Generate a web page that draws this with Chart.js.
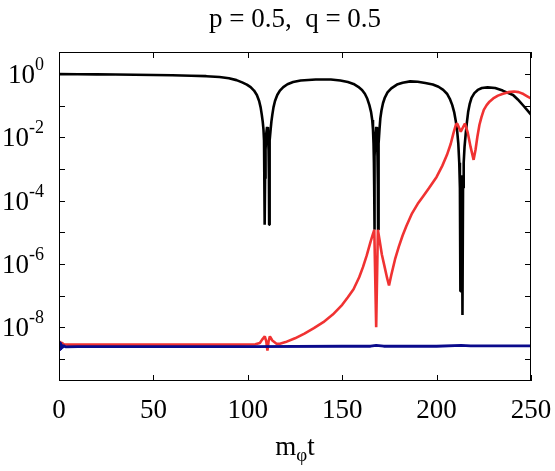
<!DOCTYPE html>
<html><head><meta charset="utf-8">
<script src="https://cdn.jsdelivr.net/npm/chart.js@4.4.0/dist/chart.umd.min.js"></script>
<style>html,body{margin:0;padding:0;background:#fff;}#wrap{width:555px;height:471px;}</style>
</head><body><div id="wrap"><canvas id="c" width="555" height="471"></canvas></div>
<script>
const titleText = "p = 0.5,  q = 0.5";
const xTicks = [0, 50, 100, 150, 200, 250];
const yMajorExp = [0, -2, -4, -6, -8];
const yMinorExp = [-1, -3, -5, -7, -9];

// black curve: time and log10(value)
const blackT = [0, 10, 20, 30, 40, 50, 60, 70, 78, 85, 90, 94, 97, 99.5, 101.5, 103.3, 104.8, 106, 106.8, 107.4, 107.9, 108.3, 108.6, 108.8, 108.95, 109.05, 109.15, 109.4, 109.75, 110.2, 110.65, 111.0, 111.2, 111.3, 111.4, 111.55, 111.75, 112.1, 112.5, 113.0, 113.6, 114.4, 115.6, 117, 118.8, 121, 124, 128, 136, 144, 149, 153, 156, 158.5, 160.5, 162, 163.3, 164.4, 165.3, 165.9, 166.3, 166.6, 166.8, 166.93, 167.0, 167.1, 167.3, 167.6, 168.0, 168.4, 168.7, 168.9, 169.0, 169.1, 169.25, 169.45, 169.75, 170.2, 170.8, 171.6, 172.6, 174, 176, 179, 182, 186, 190, 194, 198, 201, 203.5, 205.5, 207, 208.3, 209.3, 210.2, 210.9, 211.5, 212, 212.35, 212.6, 212.85, 213.15, 213.45, 213.7, 214.0, 214.35, 214.8, 215.4, 216.0, 216.7, 217.5, 218.5, 220, 221.8, 224, 227, 231, 235, 238, 240.5, 243, 246, 250];
const blackLog10 = [0, -0.003, -0.008, -0.013, -0.02, -0.028, -0.038, -0.05, -0.065, -0.09, -0.13, -0.19, -0.26, -0.33, -0.41, -0.52, -0.66, -0.85, -1.05, -1.28, -1.5, -1.75, -2.1, -2.6, -3.3, -4.76, -3.3, -2.4, -1.9, -1.67, -1.9, -2.4, -3.3, -4.76, -3.3, -2.6, -2.1, -1.75, -1.5, -1.28, -1.05, -0.85, -0.66, -0.52, -0.41, -0.32, -0.25, -0.2, -0.17, -0.17, -0.2, -0.25, -0.31, -0.4, -0.5, -0.62, -0.78, -0.98, -1.2, -1.45, -1.75, -2.2, -2.8, -3.5, -4.92, -3.5, -2.6, -1.95, -1.67, -1.95, -2.6, -3.5, -4.92, -3.5, -2.8, -2.2, -1.75, -1.4, -1.15, -0.92, -0.74, -0.58, -0.45, -0.33, -0.27, -0.23, -0.24, -0.28, -0.33, -0.4, -0.5, -0.62, -0.78, -0.98, -1.2, -1.5, -1.8, -2.2, -2.8, -3.6, -6.86, -3.8, -3.2, -3.8, -7.61, -3.6, -2.8, -2.3, -1.9, -1.55, -1.2, -0.95, -0.75, -0.6, -0.5, -0.44, -0.42, -0.44, -0.52, -0.6, -0.66, -0.8, -1.0, -1.28];

// red curve
const redT = [0, 0.5, 1, 1.5, 2.5, 5, 20, 40, 60, 80, 95, 104, 106.4, 107.5, 109.0, 109.8, 110.4, 111.0, 111.7, 113, 115.2, 117, 120, 125, 130, 135, 140, 145, 150, 153, 156, 159, 161, 163, 165, 166.3, 167.0, 168.0, 168.9, 169.8, 171, 172.5, 173.8, 174.8, 176, 178, 180, 182, 184, 187, 190, 193, 196, 200, 203, 205.5, 207.5, 209, 210.2, 210.9, 212.8, 215, 216.5, 218, 219.6, 220.6, 221.6, 222.7, 223.8, 225, 226.5, 228, 230, 232.5, 235.2, 238, 241, 243.5, 246, 248, 250];
const redLog10 = [-8.47, -8.44, -8.52, -8.49, -8.54, -8.55, -8.55, -8.55, -8.55, -8.55, -8.55, -8.54, -8.5, -8.4, -8.29, -8.45, -8.74, -8.45, -8.29, -8.42, -8.52, -8.52, -8.47, -8.35, -8.2, -8.03, -7.84, -7.6, -7.29, -7.05, -6.8, -6.42, -6.1, -5.73, -5.3, -5.05, -4.92, -8.0, -4.92, -5.25, -5.7, -6.1, -6.45, -6.68, -6.35, -5.85, -5.45, -5.1, -4.8, -4.4, -4.1, -3.85, -3.6, -3.25, -2.9, -2.55, -2.2, -1.85, -1.6, -1.56, -1.82, -1.56, -1.85, -2.3, -2.71, -2.4, -1.98, -1.6, -1.35, -1.13, -0.98, -0.87, -0.77, -0.68, -0.62, -0.57, -0.55, -0.57, -0.63, -0.7, -0.77];

// blue curve
const blueT = [0, 0.2, 0.4, 0.6, 0.8, 1.0, 1.3, 1.6, 2.0, 2.5, 3.5, 10, 50, 100, 150, 165, 168, 172, 200, 213, 218, 250];
const blueLog10 = [-8.55, -8.45, -8.75, -8.48, -8.72, -8.5, -8.68, -8.55, -8.65, -8.58, -8.62, -8.61, -8.61, -8.61, -8.6, -8.6, -8.57, -8.6, -8.6, -8.57, -8.59, -8.59];

const toPts = (t, l) => t.map((v, i) => ({x: v, y: Math.pow(10, l[i])}));
const FONT = '"Liberation Serif", "Times New Roman", serif';
Chart.defaults.font.family = FONT;

const decor = {
  id: 'decor',
  afterDraw(chart) {
    const {ctx, chartArea: a, scales: {x, y}} = chart;
    ctx.save();
    ctx.strokeStyle = '#000'; ctx.lineWidth = 1;
    ctx.strokeRect(a.left + 0.5, a.top + 0.5, a.right - a.left - 1, a.bottom - a.top - 1);
    ctx.beginPath();
    xTicks.forEach(v => {
      const px = Math.round(x.getPixelForValue(v)) + 0.5;
      ctx.moveTo(px, a.bottom); ctx.lineTo(px, a.bottom - 6);
      ctx.moveTo(px, a.top); ctx.lineTo(px, a.top + 6);
    });
    yMajorExp.concat(yMinorExp).forEach(e => {
      const py = Math.round(y.getPixelForValue(Math.pow(10, e))) + 0.5;
      ctx.moveTo(a.left, py); ctx.lineTo(a.left + 6, py);
      ctx.moveTo(a.right, py); ctx.lineTo(a.right - 6, py);
    });
    ctx.stroke();
    ctx.fillStyle = '#000'; ctx.textBaseline = 'alphabetic'; ctx.textAlign = 'left';
    // title
    ctx.font = '27px ' + FONT;
    const wTitle = ctx.measureText(titleText).width;
    const cx = (a.left + a.right) / 2;
    ctx.fillText(titleText, cx - wTitle / 2, 27);
    // y tick labels
    yMajorExp.forEach(e => {
      const py = y.getPixelForValue(Math.pow(10, e));
      ctx.font = '27px ' + FONT; const wb = ctx.measureText('10').width;
      ctx.font = '18px ' + FONT; const ex = String(e); const we = ctx.measureText(ex).width;
      const x0 = 44 - wb - we;
      ctx.font = '27px ' + FONT; ctx.fillText('10', x0, py + 9);
      ctx.font = '18px ' + FONT; ctx.fillText(ex, x0 + wb, py - 4);
    });
    // x axis title m_phi t
    ctx.font = '27px ' + FONT; const wm = ctx.measureText('m').width; const wt = ctx.measureText('t').width;
    ctx.font = '19px ' + FONT; const wp = ctx.measureText('\u03C6').width;
    let sx = cx - (wm + wp + wt) / 2; const by = 455;
    ctx.font = '27px ' + FONT; ctx.fillText('m', sx, by); sx += wm;
    ctx.font = '19px ' + FONT; ctx.fillText('\u03C6', sx, by + 6); sx += wp;
    ctx.font = '27px ' + FONT; ctx.fillText('t', sx, by);
    ctx.restore();
  }
};

new Chart(document.getElementById('c'), {
  type: 'line',
  data: {
    datasets: [
      {label: 'black', data: toPts(blackT, blackLog10), borderColor: '#000000', borderWidth: 2.6, order: 3},
      {label: 'red', data: toPts(redT, redLog10), borderColor: '#f03232', borderWidth: 2.6, order: 2},
      {label: 'blue', data: toPts(blueT, blueLog10), borderColor: '#0a0a8c', borderWidth: 2.8, order: 1}
    ]
  },
  options: {
    responsive: false, animation: false, devicePixelRatio: 1,
    layout: {padding: {left: 0, right: 24, top: 52, bottom: 0}},
    elements: {point: {radius: 0}, line: {tension: 0, borderJoinStyle: 'bevel', fill: false}},
    plugins: {legend: {display: false}, tooltip: {enabled: false}, title: {display: false}},
    scales: {
      x: {type: 'linear', min: 0, max: 250,
        afterBuildTicks: s => { s.ticks = xTicks.map(v => ({value: v})); },
        afterFit: s => { s.height = 90; s.paddingLeft = 0; s.paddingRight = 0; },
        grid: {display: false, drawTicks: false}, border: {display: false},
        ticks: {font: {size: 27}, color: '#000', padding: 14, maxRotation: 0, autoSkip: false}},
      y: {type: 'logarithmic', min: 2e-10, max: 5,
        afterFit: s => { s.width = 59; },
        grid: {display: false, drawTicks: false}, border: {display: false},
        ticks: {display: false}}
    }
  },
  plugins: [decor]
});
</script></body></html>
